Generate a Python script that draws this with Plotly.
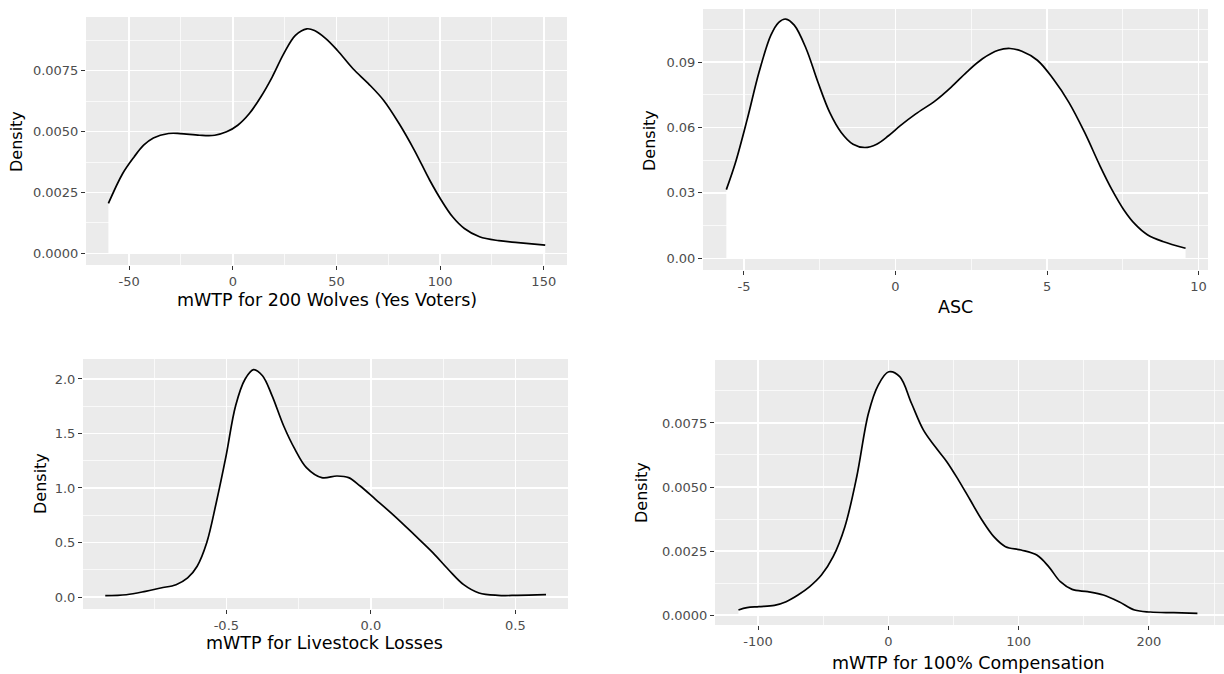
import plotly.graph_objects as go

W, H = 1224, 674

# ---------- data ----------
wolves_x = [-60, -53.1, -47.6, -43, -38.3, -31, -25.4, -16, -8.7, -3, 2.4, 8, 13.5, 19, 24.6, 30.2,
            35.7, 39.4, 45, 50.5, 58, 65.4, 72.8, 80.2, 87.6, 95, 100.5, 106, 111.7, 119, 128.3, 137.6, 150.7]
wolves_y = [0.00205, 0.00328, 0.00396, 0.00444, 0.00474, 0.00492, 0.00492, 0.00485, 0.00485, 0.00499,
            0.00526, 0.00574, 0.00642, 0.00724, 0.0082, 0.00895, 0.00922, 0.00915, 0.00881, 0.00833,
            0.00758, 0.00697, 0.00628, 0.00533, 0.00423, 0.003, 0.00219, 0.0015, 0.00102, 0.00068,
            0.00052, 0.00044, 0.00034]

asc_x = [-5.58, -5.28, -4.89, -4.5, -4.11, -3.85, -3.62, -3.34, -2.95, -2.56, -2.17, -1.79, -1.4, -1.01,
         -0.62, -0.23, 0.16, 0.67, 1.32, 1.84, 2.35, 2.87, 3.39, 3.78, 4.17, 4.68, 5.2, 5.72, 6.24, 6.75,
         7.14, 7.53, 7.92, 8.31, 8.82, 9.57]
asc_y = [0.0315, 0.0438, 0.0638, 0.0854, 0.1023, 0.1082, 0.1097, 0.1069, 0.0962, 0.0808, 0.0669, 0.0577,
         0.0523, 0.0508, 0.0523, 0.0562, 0.0608, 0.0662, 0.0723, 0.0785, 0.0854, 0.0915, 0.0954, 0.0962,
         0.0949, 0.0908, 0.0823, 0.0715, 0.0577, 0.0423, 0.0315, 0.0223, 0.0154, 0.0108, 0.0077, 0.0046]

livestock_x = [-0.919, -0.846, -0.78, -0.727, -0.674, -0.634, -0.601, -0.568, -0.535, -0.501, -0.468,
               -0.435, -0.406, -0.375, -0.342, -0.302, -0.263, -0.223, -0.17, -0.117, -0.077, -0.037,
               0.016, 0.082, 0.149, 0.215, 0.268, 0.321, 0.374, 0.44, 0.507, 0.606]
livestock_y = [0.012, 0.021, 0.052, 0.083, 0.113, 0.175, 0.282, 0.497, 0.865, 1.294, 1.755, 2.0, 2.086,
               2.03, 1.847, 1.571, 1.356, 1.187, 1.095, 1.11, 1.095, 1.018, 0.896, 0.742, 0.574, 0.405,
               0.252, 0.113, 0.037, 0.015, 0.015, 0.021]

comp_x = [-115.1, -108.5, -99.5, -87.5, -78.5, -69.4, -60.4, -51.4, -42.4, -33.4, -24.3, -15.3, -7.8, 0.3,
          8.7, 17.7, 26.8, 35.8, 44.8, 53.8, 62.8, 71.8, 80.9, 89.9, 101.9, 113.9, 123, 132, 141, 153, 165,
          177, 189, 201, 219, 237.2]
comp_y = [0.000195, 0.000286, 0.000326, 0.000378, 0.00052, 0.00078, 0.00111, 0.00156, 0.00228, 0.00345,
          0.0054, 0.00788, 0.00898, 0.0095, 0.00931, 0.00827, 0.00723, 0.00658, 0.00599, 0.00527, 0.00449,
          0.00371, 0.00306, 0.00267, 0.00254, 0.00234, 0.00189, 0.0013, 0.001, 0.00091, 0.00078, 0.00052,
          0.000195, 0.000117, 0.00009, 0.000065]

x_titles = ["mWTP for 200 Wolves (Yes Voters)", "ASC", "mWTP for Livestock Losses", "mWTP for 100% Compensation"]
y_title = "Density"

x_ticks = [[-50, 0, 50, 100, 150], [-5, 0, 5, 10], [-0.5, 0.0, 0.5], [-100, 0, 100, 200]]
x_ticklabels = [["-50", "0", "50", "100", "150"], ["-5", "0", "5", "10"], ["-0.5", "0.0", "0.5"],
                ["-100", "0", "100", "200"]]
y_ticks = [[0, 0.0025, 0.005, 0.0075], [0, 0.03, 0.06, 0.09], [0, 0.5, 1.0, 1.5, 2.0], [0, 0.0025, 0.005, 0.0075]]
y_ticklabels = [["0.0000", "0.0025", "0.0050", "0.0075"], ["0.00", "0.03", "0.06", "0.09"],
                ["0.0", "0.5", "1.0", "1.5", "2.0"], ["0.0000", "0.0025", "0.0050", "0.0075"]]
x_minor = [[-25, 25, 75, 125], [-2.5, 2.5, 7.5], [-0.75, -0.25, 0.25], [-50, 50, 150, 250]]
y_minor = [[0.00125, 0.00375, 0.00625, 0.00875], [0.015, 0.045, 0.075, 0.105],
           [0.25, 0.75, 1.25, 1.75], [0.00125, 0.00375, 0.00625, 0.00875]]

# ---------- layout geometry (pixels) ----------
panels = [  # left, right, top, bottom
    (86, 567, 17, 265),
    (703, 1208, 9, 270),
    (83, 568, 359, 609),
    (715, 1224, 360, 625),
]
x_ranges = [(-70.8, 161.2), (-6.35, 10.31), (-0.996, 0.682), (-133.1, 257.6)]
y_ranges = [(-0.00048, 0.009706), (-0.00537, 0.1143), (-0.110, 2.183), (-0.00039, 0.00996)]
xtitle_pos = [(327, 300), (955, 307), (324, 643), (968, 663)]
ytitle_pos = [(16, 142), (650, 141), (40, 484), (641, 493)]

series = [(wolves_x, wolves_y), (asc_x, asc_y), (livestock_x, livestock_y), (comp_x, comp_y)]

FONT = "DejaVu Sans, Liberation Sans, Arial, sans-serif"
fig = go.Figure()
layout = dict(width=W, height=H, margin=dict(l=0, r=0, t=0, b=0), autosize=False,
              paper_bgcolor="white", plot_bgcolor="#EBEBEB", showlegend=False,
              font=dict(family=FONT))
annotations = []

for i, ((xs, ys), (l, r, t, b)) in enumerate(zip(series, panels)):
    n = "" if i == 0 else str(i + 1)
    fig.add_trace(go.Scatter(x=xs, y=ys, mode="lines", line=dict(color="black", width=1.7, shape="spline"),
                             fill="tozeroy", fillcolor="white", xaxis="x" + n, yaxis="y" + n,
                             hoverinfo="skip"))
    common = dict(showgrid=True, gridcolor="white", gridwidth=1.5, zeroline=False, showline=False,
                  ticks="outside", ticklen=4, tickwidth=1, tickcolor="#333333",
                  tickfont=dict(size=13, color="#4D4D4D", family=FONT))
    layout["xaxis" + n] = dict(domain=[l / W, r / W], anchor="y" + n, range=list(x_ranges[i]),
                               tickmode="array", tickvals=x_ticks[i], ticktext=x_ticklabels[i],
                               minor=dict(tickvals=x_minor[i], showgrid=True, gridcolor="white",
                                          gridwidth=0.7, ticks=""),
                               **common)
    layout["yaxis" + n] = dict(domain=[1 - b / H, 1 - t / H], anchor="x" + n, range=list(y_ranges[i]),
                               tickmode="array", tickvals=y_ticks[i], ticktext=y_ticklabels[i],
                               minor=dict(tickvals=y_minor[i], showgrid=True, gridcolor="white",
                                          gridwidth=0.7, ticks=""),
                               **common)
    annotations.append(dict(text=x_titles[i], x=xtitle_pos[i][0] / W, y=1 - xtitle_pos[i][1] / H,
                            xref="paper", yref="paper", showarrow=False, xanchor="center", yanchor="middle",
                            font=dict(size=17.5, color="black", family=FONT)))
    annotations.append(dict(text=y_title, x=ytitle_pos[i][0] / W, y=1 - ytitle_pos[i][1] / H,
                            xref="paper", yref="paper", showarrow=False, xanchor="center", yanchor="middle",
                            textangle=-90, font=dict(size=16, color="black", family=FONT)))

layout["annotations"] = annotations
fig.update_layout(**layout)
fig.write_html("out.html", config={"displayModeBar": False, "staticPlot": True},
               post_script="document.body.style.margin='0';document.body.style.overflow='hidden';"
                           "document.documentElement.style.overflow='hidden';")
